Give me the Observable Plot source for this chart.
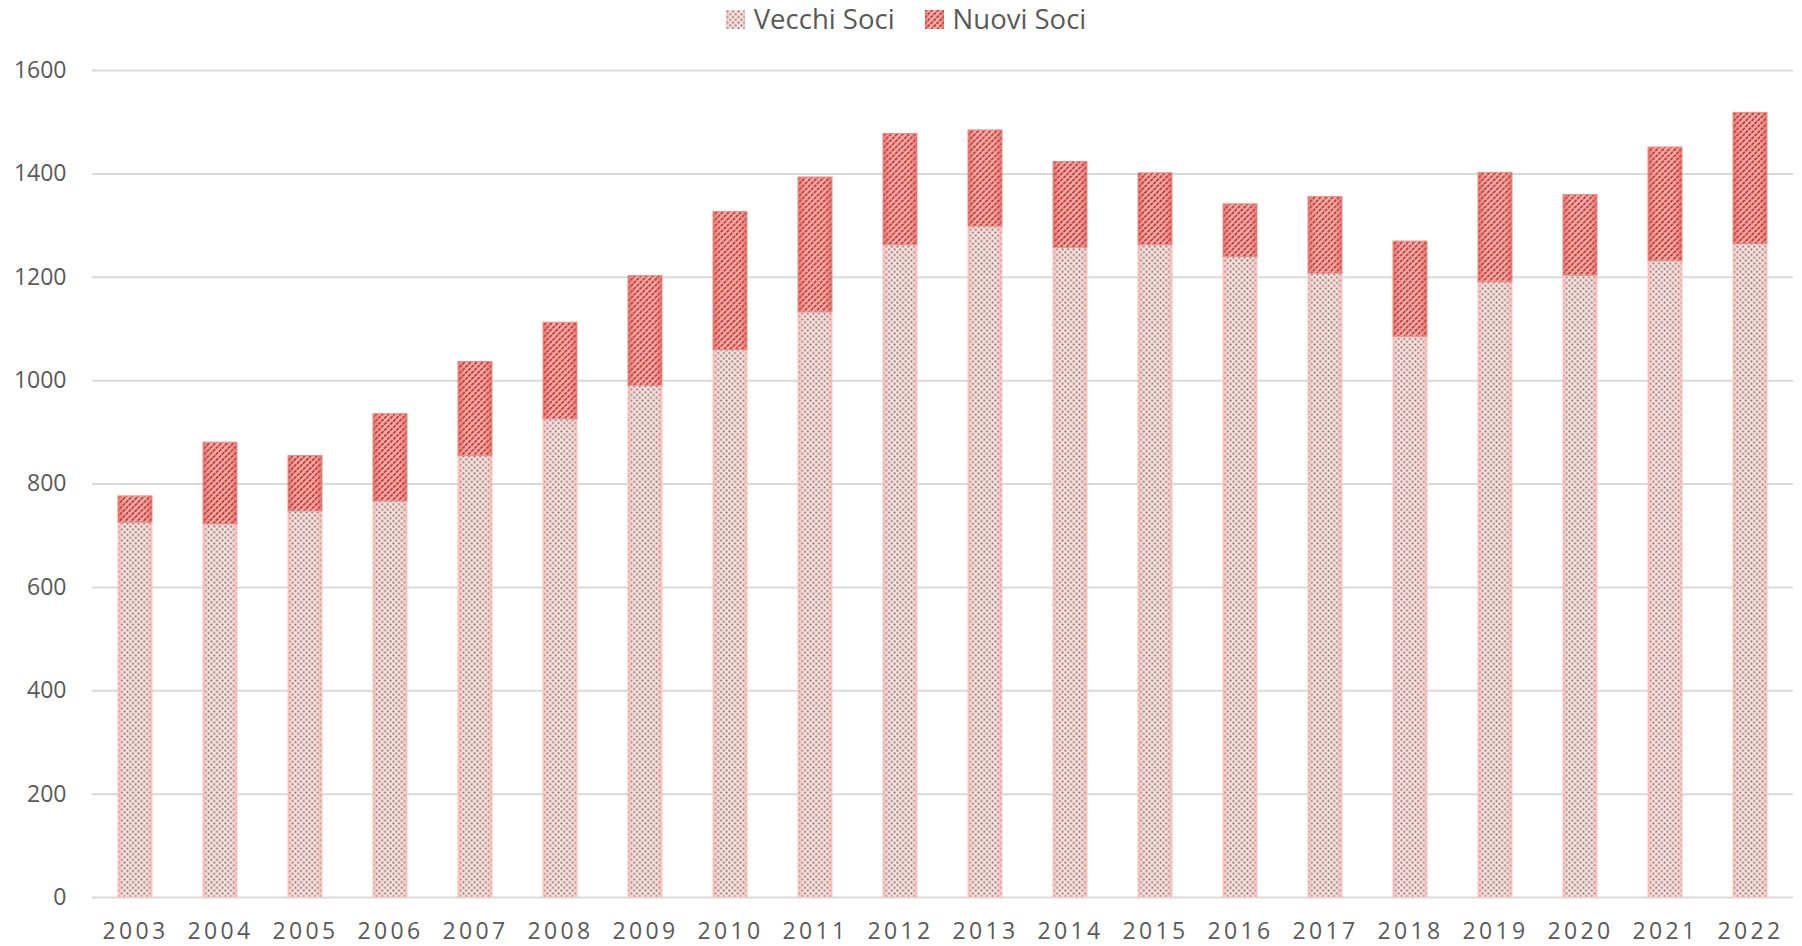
<!DOCTYPE html>
<html>
<head>
<meta charset="utf-8">
<script src="https://cdn.jsdelivr.net/npm/d3@7"></script>
<script src="https://cdn.jsdelivr.net/npm/@observablehq/plot@0.6"></script>
<style>
  html, body { margin: 0; padding: 0; background: #fff; }
  body { width: 1802px; height: 946px; overflow: hidden; font-family: "Open Sans", sans-serif; }
  #legend { height: 38px; display: flex; justify-content: center; align-items: center; color: #595959; font-size: 27.5px; padding-left: 10px; }
  .item { display: flex; align-items: center; margin: 0 15px; line-height: 1; }
  .item svg { margin-right: 9px; }
</style>
</head>
<body>
<svg width="0" height="0" style="position:absolute">
  <defs>
    <pattern id="dots" patternUnits="userSpaceOnUse" width="5.6" height="5.6">
      <rect width="5.6" height="5.6" fill="#fde0dd"/>
      <rect x="0.5" y="0.5" width="1.8" height="1.8" fill="#746c6c"/>
      <rect x="3.3" y="3.3" width="1.8" height="1.8" fill="#746c6c"/>
    </pattern>
    <pattern id="hatch" patternUnits="userSpaceOnUse" width="4.25" height="4.25" patternTransform="rotate(45)">
      <rect width="4.25" height="4.25" fill="#f0b0a8"/>
      <line x1="1" y1="0" x2="1" y2="4.25" stroke="#d0232a" stroke-width="1.6" stroke-dasharray="1.8 0.7"/>
    </pattern>
    <linearGradient id="edgeRed" x1="0" x2="1" y1="0" y2="0">
      <stop offset="0" stop-color="#d8574f" stop-opacity="0.6"/>
      <stop offset="0.22" stop-color="#d8574f" stop-opacity="0"/>
      <stop offset="0.78" stop-color="#d8574f" stop-opacity="0"/>
      <stop offset="1" stop-color="#d8574f" stop-opacity="0.6"/>
    </linearGradient>
    <linearGradient id="edgePink" x1="0" x2="1" y1="0" y2="0">
      <stop offset="0" stop-color="#f7b3ae" stop-opacity="0.7"/>
      <stop offset="0.15" stop-color="#f7b3ae" stop-opacity="0"/>
      <stop offset="0.85" stop-color="#f7b3ae" stop-opacity="0"/>
      <stop offset="1" stop-color="#f7b3ae" stop-opacity="0.7"/>
    </linearGradient>
  </defs>
</svg>
<div id="legend">
  <div class="item"><svg width="19" height="19"><rect width="19" height="19" fill="url(#dots)"/><rect width="19" height="19" fill="url(#edgePink)"/></svg><span>Vecchi Soci</span></div>
  <div class="item"><svg width="19" height="19"><rect width="19" height="19" fill="url(#hatch)"/><rect width="19" height="19" fill="url(#edgeRed)"/></svg><span>Nuovi Soci</span></div>
</div>
<div id="chart"></div>
<script>
const years = ["2003","2004","2005","2006","2007","2008","2009","2010","2011","2012","2013","2014","2015","2016","2017","2018","2019","2020","2021","2022"];
const vecchiSoci = [725, 722, 747, 766, 854, 925, 990, 1059, 1132, 1262, 1298, 1257, 1262, 1239, 1207, 1085, 1190, 1203, 1231, 1264];
const nuoviSoci = [51, 158, 107, 169, 182, 187, 212, 267, 261, 215, 186, 166, 139, 102, 148, 184, 212, 156, 220, 254];
const yTicks = [0, 200, 400, 600, 800, 1000, 1200, 1400, 1600];

const rows = years.map((year, i) => ({year, vecchi: vecchiSoci[i], nuovi: nuoviSoci[i]}));

const chart = Plot.plot({
  width: 1802,
  height: 908,
  marginTop: 32,
  marginBottom: 49,
  marginLeft: 92,
  marginRight: 9,
  style: {fontFamily: "'Open Sans', sans-serif", fontSize: "23px", color: "#595959", background: "#fff"},
  x: {domain: years, paddingInner: 0.6, paddingOuter: 0.3, label: null},
  y: {domain: [0, 1600], label: null},
  marks: [
    Plot.gridY(yTicks, {stroke: "#d9d9d9", strokeWidth: 2, strokeOpacity: 1}),
    Plot.axisY(yTicks, {tickSize: 0, tickPadding: 26, fill: "#595959", fontSize: 23, label: null, tickFormat: d => String(d)}),
    Plot.axisX({tickSize: 0, tickPadding: 25, fill: "#595959", fontSize: 23, label: null}),
    Plot.barY(rows, {x: "year", y1: 0, y2: "vecchi", fill: "url(#dots)", inset: 0}),
    Plot.barY(rows, {x: "year", y1: 0, y2: "vecchi", fill: "url(#edgePink)", stroke: "#f9c6c2", strokeWidth: 1, inset: 0}),
    Plot.barY(rows, {x: "year", y1: "vecchi", y2: d => d.vecchi + d.nuovi, fill: "url(#hatch)", inset: 0}),
    Plot.barY(rows, {x: "year", y1: "vecchi", y2: d => d.vecchi + d.nuovi, fill: "url(#edgeRed)", stroke: "#e48f88", strokeWidth: 1, inset: 0})
  ]
});
d3.select(chart).selectAll("g[aria-label='x-axis tick label'] text").style("letter-spacing", "3.3px");
document.getElementById("chart").appendChild(chart);
</script>
</body>
</html>
